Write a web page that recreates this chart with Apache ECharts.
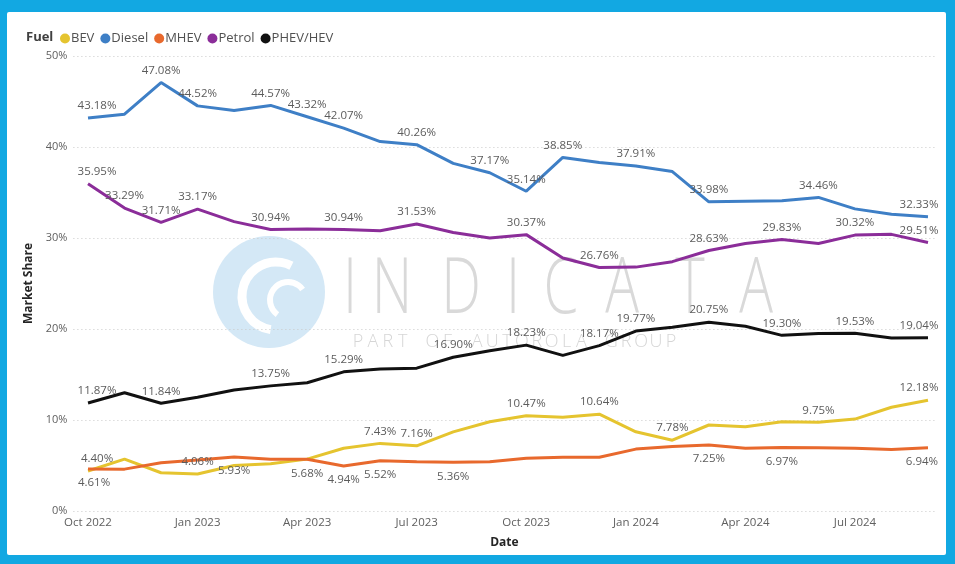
<!DOCTYPE html>
<html>
<head>
<meta charset="utf-8">
<script src="https://cdn.jsdelivr.net/npm/echarts@6/dist/echarts.min.js"></script>
<style>
  html, body { margin: 0; padding: 0; background: #fff; }
  #chart { width: 955px; height: 564px; }
</style>
</head>
<body>
<div id="chart"></div>
<script>
// Monthly market share by fuel type (percent)
const months = ['Oct 2022','Nov 2022','Dec 2022','Jan 2023','Feb 2023','Mar 2023','Apr 2023','May 2023','Jun 2023','Jul 2023','Aug 2023','Sep 2023','Oct 2023','Nov 2023','Dec 2023','Jan 2024','Feb 2024','Mar 2024','Apr 2024','May 2024','Jun 2024','Jul 2024','Aug 2024','Sep 2024'];
const tickMonths = [0, 3, 6, 9, 12, 15, 18, 21];
const yTicks = [0, 10, 20, 30, 40, 50];

const bev    = [4.40, 5.7, 4.2, 4.06, 5.0, 5.2, 5.7, 6.9, 7.43, 7.16, 8.7, 9.8, 10.47, 10.3, 10.64, 8.7, 7.78, 9.45, 9.25, 9.8, 9.75, 10.1, 11.4, 12.18];
const diesel = [43.18, 43.6, 47.08, 44.52, 44.0, 44.57, 43.32, 42.07, 40.6, 40.26, 38.2, 37.17, 35.14, 38.85, 38.3, 37.91, 37.3, 33.98, 34.05, 34.1, 34.46, 33.2, 32.6, 32.33];
const mhev   = [4.61, 4.6, 5.3, 5.6, 5.93, 5.7, 5.68, 4.94, 5.52, 5.4, 5.36, 5.4, 5.8, 5.9, 5.9, 6.8, 7.1, 7.25, 6.9, 6.97, 6.95, 6.9, 6.75, 6.94];
const petrol = [35.95, 33.29, 31.71, 33.17, 31.8, 30.94, 31.0, 30.94, 30.8, 31.53, 30.6, 30.0, 30.37, 27.8, 26.76, 26.8, 27.4, 28.63, 29.4, 29.83, 29.4, 30.32, 30.4, 29.51];
const phev   = [11.87, 13.0, 11.84, 12.5, 13.3, 13.75, 14.1, 15.29, 15.6, 15.7, 16.90, 17.6, 18.23, 17.1, 18.17, 19.77, 20.2, 20.75, 20.3, 19.30, 19.5, 19.53, 19.0, 19.04];

// months that carry a value label
const bevLabelled    = [0, 3, 8, 9, 12, 14, 16, 20, 23];
const dieselLabelled = [0, 2, 3, 5, 6, 7, 9, 11, 12, 13, 15, 17, 20, 23];
const mhevLabelled   = [0, 4, 6, 7, 8, 10, 17, 19, 23];
const petrolLabelled = [0, 1, 2, 3, 5, 7, 9, 12, 14, 17, 19, 21, 23];
const phevLabelled   = [0, 2, 5, 7, 10, 12, 14, 15, 17, 19, 21, 23];

const FONT = "'Open Sans', 'Noto Sans', sans-serif";

function buildData(values, labelled, below) {
  const last = values.length - 1;
  return values.map((v, i) => {
    const item = { value: [i, v] };
    if (labelled.includes(i)) {
      let dx = 0;
      if (i === 0) dx = below ? 6 : 9;
      if (i === last) dx = below ? -6 : -9;
      item.label = {
        show: true,
        position: below ? 'bottom' : 'top',
        distance: below ? 7 : 5,
        offset: [dx, 0]
      };
    }
    return item;
  });
}

function lineSeries(name, color, values, labelled, below) {
  return {
    name: name,
    type: 'line',
    data: buildData(values, labelled, below),
    symbol: 'circle',
    symbolSize: 0,
    showAllSymbol: true,
    lineStyle: { color: color, width: 3 },
    itemStyle: { color: color },
    label: {
      show: false,
      color: '#5c5c5c',
      fontSize: 11.5,
      fontFamily: FONT,
      lineHeight: 14,
      formatter: p => p.value[1].toFixed(2) + '%'
    },
    emphasis: { disabled: true },
    z: 3
  };
}

const chart = echarts.init(document.getElementById('chart'), null, { renderer: 'canvas' });

const graphics = [
  { type: 'rect', shape: { x: 7, y: 12, width: 939, height: 543, r: 2 }, style: { fill: '#ffffff' }, z: -10, silent: true },
  // logo disc with swirl
  { type: 'circle', shape: { cx: 269, cy: 292, r: 56 }, style: { fill: '#d4e8f6' }, z: -5, silent: true },
  { type: 'arc', shape: { cx: 276, cy: 296, r: 34, startAngle: Math.PI * 0.55, endAngle: Math.PI * 1.65 }, style: { stroke: '#ffffff', lineWidth: 9, fill: null }, z: -4, silent: true },
  { type: 'arc', shape: { cx: 288, cy: 300, r: 18, startAngle: Math.PI * 0.7, endAngle: Math.PI * 1.8 }, style: { stroke: '#ffffff', lineWidth: 6, fill: null }, z: -4, silent: true }
];

// wordmark, drawn letter by letter with wide tracking
const wordLetters = ['I','N','D','I','C','A','T','A'];
const wordCenters = [350, 392, 461, 513, 561, 622, 690, 756];
wordLetters.forEach((ch, i) => {
  graphics.push({
    type: 'text', x: wordCenters[i], y: 291, scaleX: 0.72, z: -4, silent: true,
    style: { text: ch, fill: '#d9d9d9', font: '300 78px ' + FONT, textAlign: 'center', textVerticalAlign: 'middle' }
  });
});
const tagline = 'PART OF AUTOROLA GROUP';
for (let i = 0; i < tagline.length; i++) {
  if (tagline[i] === ' ') continue;
  graphics.push({
    type: 'text', x: 358 + i * 14.9, y: 342, z: -4, silent: true,
    style: { text: tagline[i], fill: '#d6d6d6', font: '300 18px ' + FONT, textAlign: 'center', textVerticalAlign: 'middle' }
  });
}

const option = {
  backgroundColor: '#12a8e2',
  animation: false,
  textStyle: { fontFamily: FONT },
  title: {
    text: 'Fuel', left: 21, top: 26,
    textStyle: { fontSize: 13, fontWeight: 'bold', color: '#404040', fontFamily: FONT }
  },
  legend: {
    left: 55, top: 27,
    icon: 'circle', itemWidth: 10, itemHeight: 10, itemGap: 6,
    textStyle: { fontSize: 13, color: '#505050', fontFamily: FONT, padding: [0, 0, 0, -4] },
    data: ['BEV', 'Diesel', 'MHEV', 'Petrol', 'PHEV/HEV']
  },
  graphic: graphics,
  grid: { left: 73.4, right: 19.7, top: 56, bottom: 53, containLabel: false },
  xAxis: {
    type: 'value',
    min: -0.4, max: 23.2,
    name: 'Date', nameLocation: 'middle', nameGap: 26,
    nameTextStyle: { fontSize: 12, fontWeight: 'bold', color: '#252525', fontFamily: FONT },
    axisLine: { show: false }, axisTick: { show: false },
    splitLine: { show: false },
    axisLabel: {
      customValues: tickMonths,
      formatter: v => months[Math.round(v)],
      color: '#606060', fontSize: 11.5, margin: 6, fontFamily: FONT
    }
  },
  yAxis: {
    type: 'value',
    min: yTicks[0], max: yTicks[yTicks.length - 1], interval: 10,
    name: 'Market Share', nameLocation: 'middle', nameGap: 36,
    nameTextStyle: { fontSize: 12, fontWeight: 'bold', color: '#252525', fontFamily: FONT },
    axisLine: { show: false }, axisTick: { show: false },
    axisLabel: { formatter: '{value}%', color: '#606060', fontSize: 11, margin: 6, fontFamily: FONT },
    splitLine: { lineStyle: { color: '#c9c9c9', width: 1, type: [1, 3] } }
  },
  series: [
    lineSeries('BEV', '#e5c42f', bev, bevLabelled, false),
    lineSeries('Diesel', '#3e7fc6', diesel, dieselLabelled, false),
    lineSeries('MHEV', '#e8692d', mhev, mhevLabelled, true),
    lineSeries('Petrol', '#8b2d99', petrol, petrolLabelled, false),
    lineSeries('PHEV/HEV', '#111111', phev, phevLabelled, false)
  ]
};
chart.setOption(option);
</script>
</body>
</html>
